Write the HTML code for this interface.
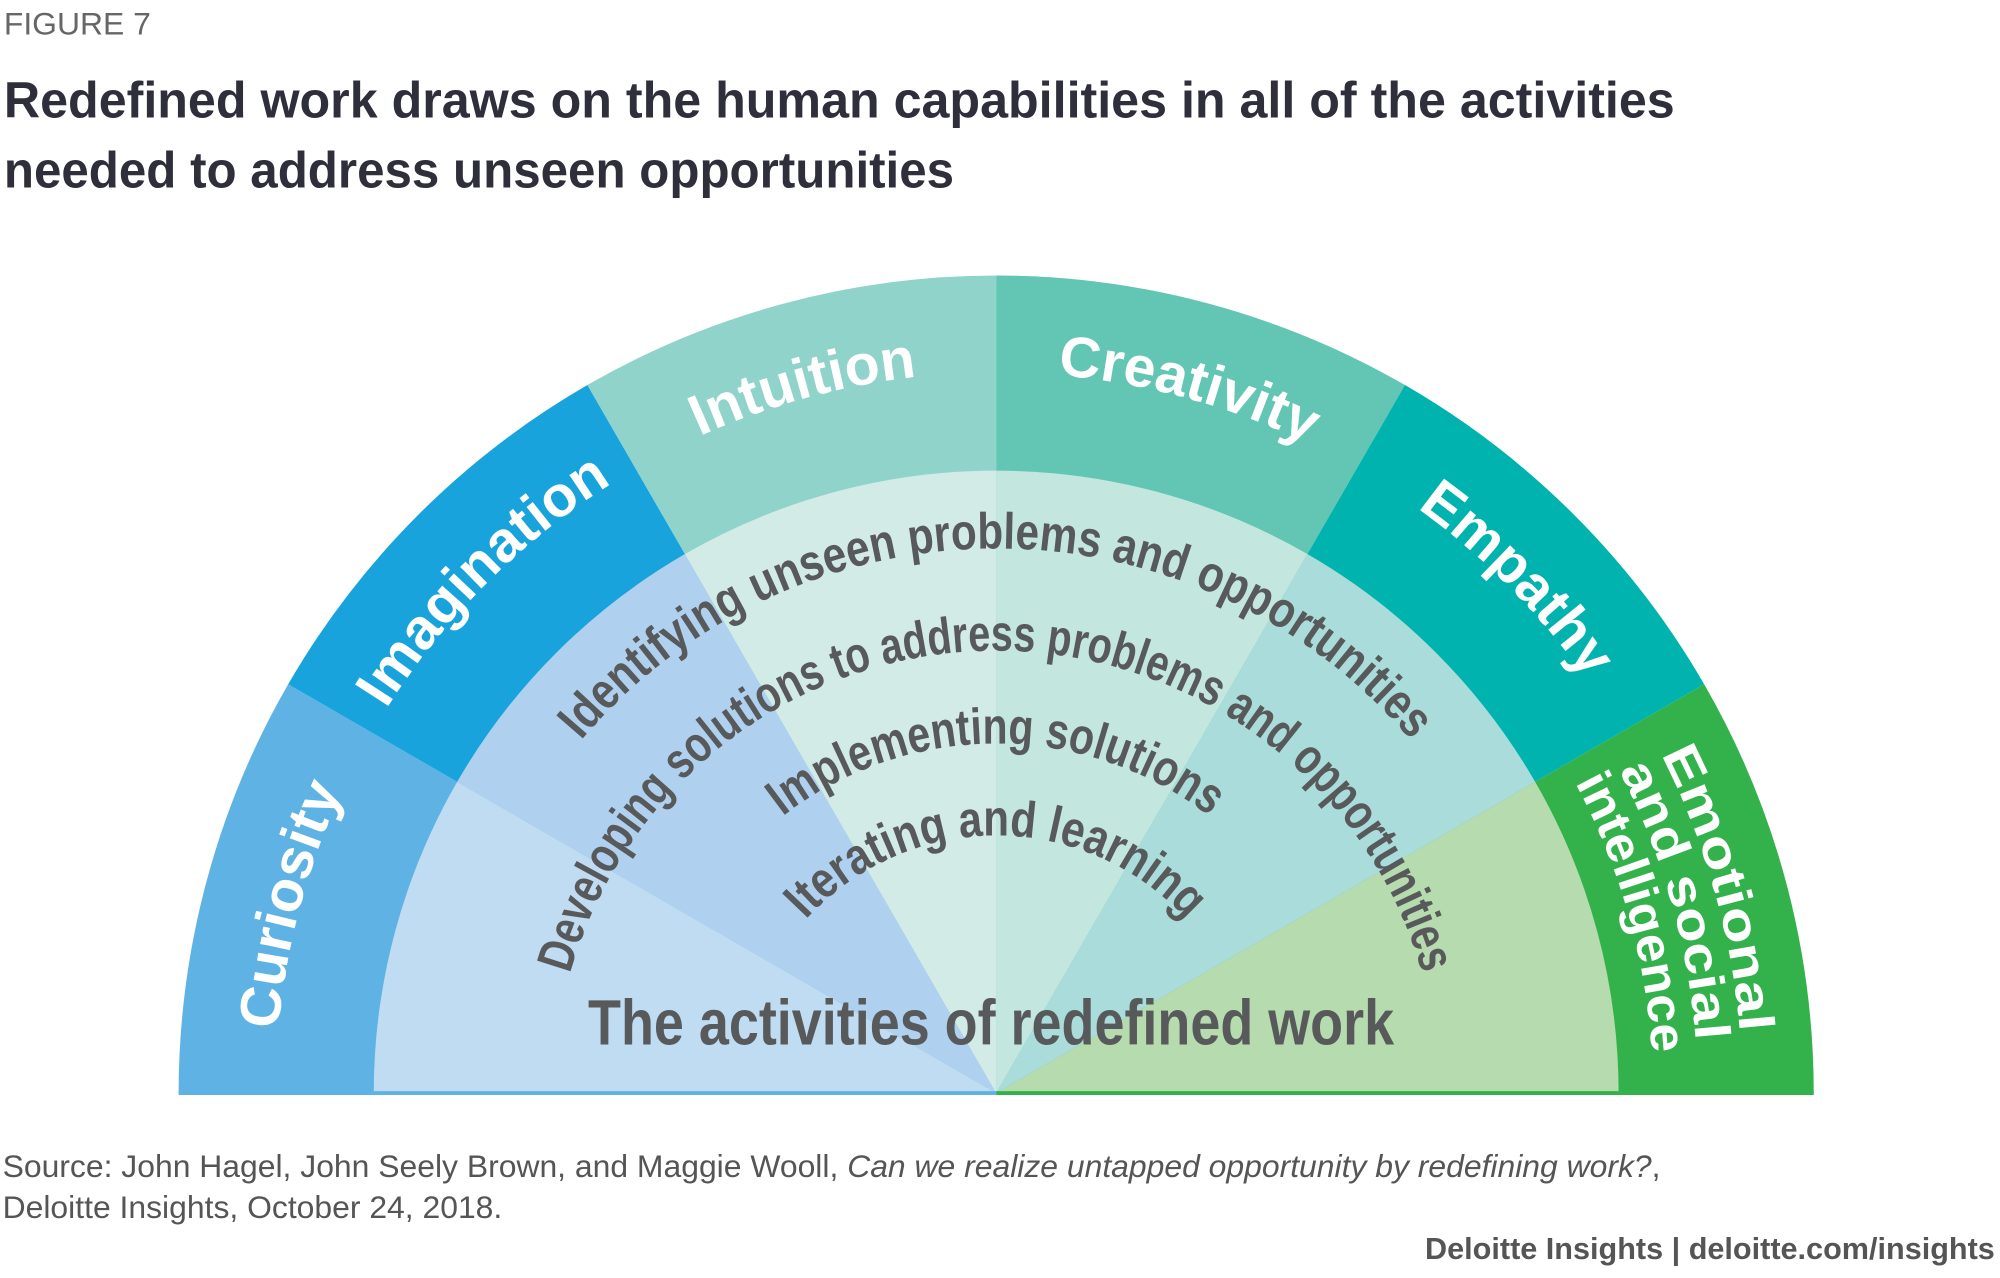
<!DOCTYPE html>
<html><head><meta charset="utf-8"><style>
html,body{margin:0;padding:0;background:#fff;}
svg{display:block;}
</style></head><body>
<svg width="2000" height="1278" viewBox="0 0 1568 1002" xmlns="http://www.w3.org/2000/svg">
<defs>
<path id="r565" d="M216,857 A565,565 0 0 1 1346,857"/>
<path id="e1" d="M196,857 A585,585 0 0 1 1366,857"/>
<path id="e2" d="M231,857 A550,550 0 0 1 1331,857"/>
<path id="e3" d="M266,857 A515,515 0 0 1 1296,857"/>
<path id="i1" d="M354,857 A427,427 0 0 1 1208,857"/>
<path id="i2" d="M434,857 A347,347 0 0 1 1128,857"/>
<path id="i3" d="M507,857 A274,274 0 0 1 1055,857"/>
<path id="i4" d="M579,857 A202,202 0 0 1 983,857"/>
</defs>
<g font-family="Liberation Sans, sans-serif">
<text x="3" y="27" font-size="25" fill="#666">FIGURE 7</text>
<text x="3" y="92" font-size="40" font-weight="bold" fill="#2f2f3b" textLength="1310" lengthAdjust="spacingAndGlyphs">Redefined work draws on the human capabilities in all of the activities</text>
<text x="3" y="147" font-size="40" font-weight="bold" fill="#2f2f3b" textLength="745" lengthAdjust="spacingAndGlyphs">needed to address unseen opportunities</text>
</g>
<g transform="translate(781,857)">
<path d="M-641,0 A641,641 0 0 1 -555.1,-320.5 L0,0Z" fill="#5fb3e4"/>
<path d="M-555.1,-320.5 A641,641 0 0 1 -320.5,-555.1 L0,0Z" fill="#19a3dc"/>
<path d="M-320.5,-555.1 A641,641 0 0 1 0,-641 L0,0Z" fill="#8fd3ca"/>
<path d="M0,-641 A641,641 0 0 1 320.5,-555.1 L0,0Z" fill="#63c5b4"/>
<path d="M320.5,-555.1 A641,641 0 0 1 555.1,-320.5 L0,0Z" fill="#00b3ae"/>
<path d="M555.1,-320.5 A641,641 0 0 1 641,0 L0,0Z" fill="#33b24c"/>
<path d="M-488,0 A488,488 0 0 1 -422.6,-244 L0,0Z" fill="#c0dcf2"/>
<path d="M-422.6,-244 A488,488 0 0 1 -244,-422.6 L0,0Z" fill="#afd1ef"/>
<path d="M-244,-422.6 A488,488 0 0 1 0,-488 L0,0Z" fill="#d2ebe6"/>
<path d="M0,-488 A488,488 0 0 1 244,-422.6 L0,0Z" fill="#c3e6de"/>
<path d="M244,-422.6 A488,488 0 0 1 422.6,-244 L0,0Z" fill="#a9dcda"/>
<path d="M422.6,-244 A488,488 0 0 1 488,0 L0,0Z" fill="#b6dbae"/>
<line x1="-641" y1="0" x2="0" y2="0" stroke="#5fb3e4" stroke-width="3"/>
<line x1="0" y1="0" x2="641" y2="0" stroke="#33b24c" stroke-width="3"/>
</g>
<g font-family="Liberation Sans, sans-serif" font-weight="bold" fill="#fff" font-size="45" text-anchor="middle">
<text><textPath href="#r565" startOffset="8.3%">Curiosity</textPath></text>
<text><textPath href="#r565" startOffset="25%">Imagination</textPath></text>
<text><textPath href="#r565" startOffset="41.5%">Intuition</textPath></text>
<text><textPath href="#r565" startOffset="58.5%">Creativity</textPath></text>
<text><textPath href="#r565" startOffset="75.2%">Empathy</textPath></text>
<text font-size="39"><textPath href="#e1" startOffset="91.2%" textLength="228" lengthAdjust="spacingAndGlyphs">Emotional</textPath></text>
<text font-size="39"><textPath href="#e2" startOffset="91.2%" textLength="222" lengthAdjust="spacingAndGlyphs">and social</textPath></text>
<text font-size="39"><textPath href="#e3" startOffset="91.2%" textLength="222" lengthAdjust="spacingAndGlyphs">intelligence</textPath></text>
</g>
<g font-family="Liberation Sans, sans-serif" font-weight="bold" fill="#58595b" font-size="40" text-anchor="middle">
<text><textPath href="#i1" startOffset="50%" textLength="740" lengthAdjust="spacingAndGlyphs">Identifying unseen problems and opportunities</textPath></text>
<text><textPath href="#i2" startOffset="50%" textLength="900" lengthAdjust="spacingAndGlyphs">Developing solutions to address problems and opportunities</textPath></text>
<text><textPath href="#i3" startOffset="50%" textLength="360" lengthAdjust="spacingAndGlyphs">Implementing solutions</textPath></text>
<text><textPath href="#i4" startOffset="50%" textLength="336" lengthAdjust="spacingAndGlyphs">Iterating and learning</textPath></text>
<text x="777" y="819" font-size="50" textLength="632" lengthAdjust="spacingAndGlyphs">The activities of redefined work</text>
</g>
<g font-family="Liberation Sans, sans-serif" font-size="25" fill="#555">
<text x="2" y="923">Source: John Hagel, John Seely Brown, and Maggie Wooll, <tspan font-style="italic">Can we realize untapped opportunity by redefining work?</tspan>,</text>
<text x="2" y="955">Deloitte Insights, October 24, 2018.</text>
<text x="1564" y="987" text-anchor="end" font-weight="bold" font-size="24">Deloitte Insights | deloitte.com/insights</text>
</g>
</svg>
</body></html>
